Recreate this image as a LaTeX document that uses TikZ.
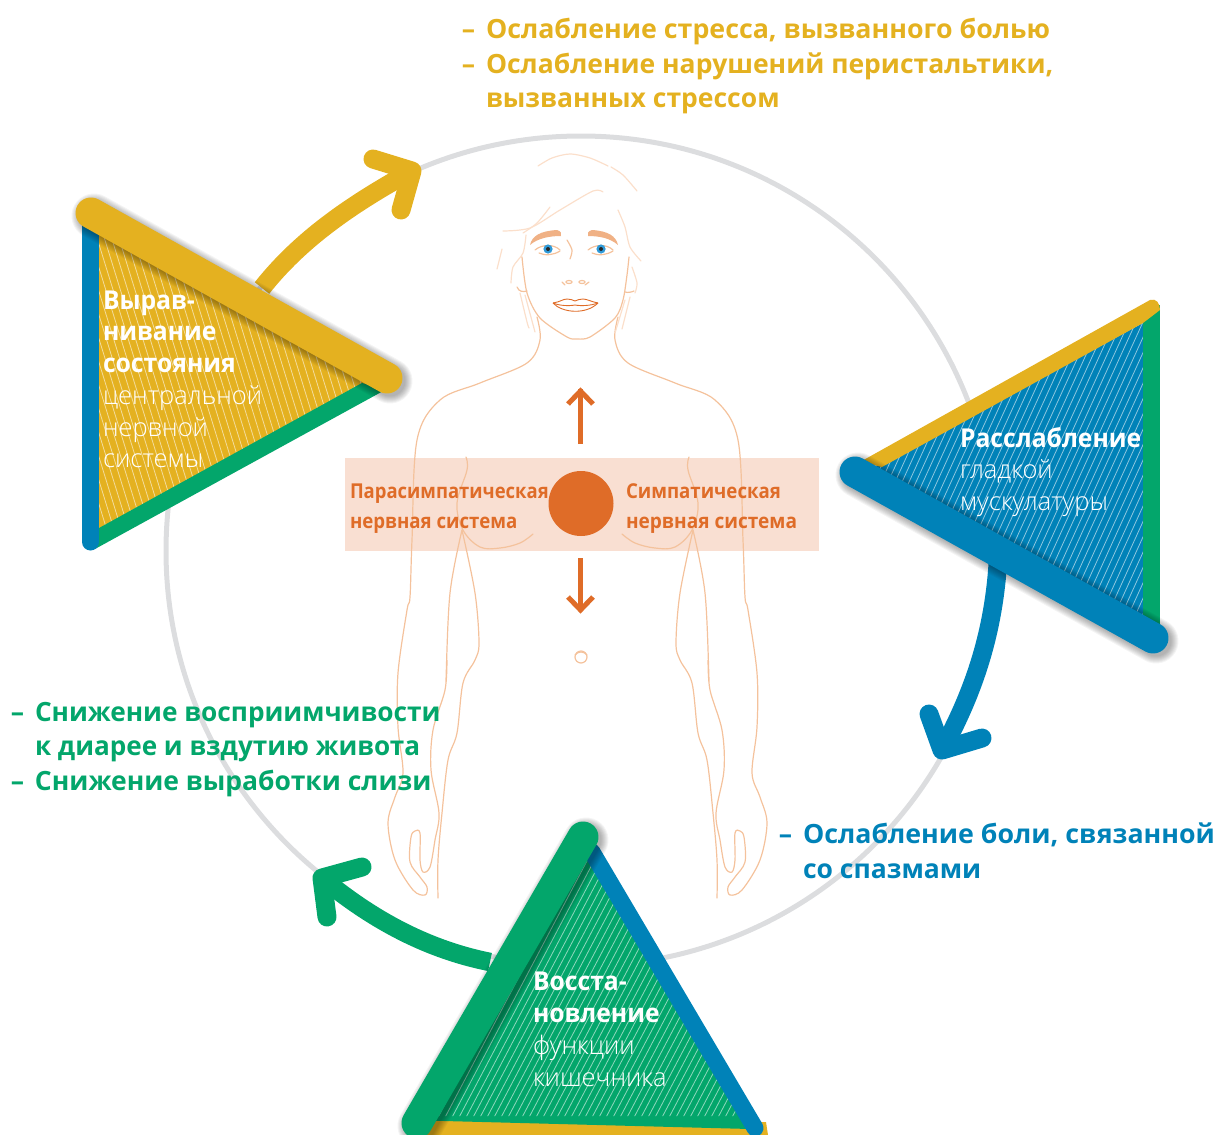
\documentclass[tikz,border=0pt]{standalone}
\usepackage{graphicx}
\usepackage{fontspec}
\setmainfont{Open Sans}
\newfontfamily\lightf{Open Sans Light}
\definecolor{cyel}{HTML}{E4B120}
\definecolor{cgrn}{HTML}{03A66B}
\definecolor{cblu}{HTML}{0082B8}
\definecolor{cgry}{HTML}{DCDDDF}
\definecolor{corg}{HTML}{DF6C28}
\definecolor{cbox}{HTML}{F9DFD2}
\definecolor{cskin}{HTML}{F4C29C}
\definecolor{chair}{HTML}{FBDFCB}
\definecolor{ciris}{HTML}{2F9AD8}
\newcommand\xs[2]{\scalebox{#1}[1]{#2}}
\tikzset{
  x=1pt,y=-1pt,
  bar/.style={line width=31,line cap=round},
  edge/.style={line width=17,line cap=round},
  shaft/.style={line width=18.5,line cap=butt},
  head/.style={line width=19,line cap=round,line join=round},
  hatchl/.style={white,opacity=.55,line width=.8},
  skin/.style={cskin,line width=1.2,line cap=round},
  hairl/.style={chair,line width=1.2,line cap=round},
  tx/.style={anchor=base west,inner sep=0,outer sep=0},
  big/.style={tx,font=\bfseries\fontsize{26.5}{30}\selectfont},
  lbl/.style={tx,corg,font=\bfseries\fontsize{20.5}{24}\selectfont},
  tb/.style={tx,white,font=\bfseries\fontsize{26}{30}\selectfont},
  tl/.style={tx,white,font=\lightf\fontsize{25.5}{30}\selectfont},
  oarr/.style={corg,line width=5,line join=miter},
}
\newcommand\softshadow[4]{%
  \foreach \w in {45,43,41,39,37,35,33,31}{%
    \draw[black,opacity=.042,line width=\w,line cap=round] (#1+3,#2+3) -- (#3+3,#4+3);}}
\newcommand\halfbody{%
  \draw[skin] plot[smooth,tension=.55] coordinates {(537,317) (540,340) (527,363) (480,383) (440,400) (417,440) (412,540) (410,597) (407,610) (398,673) (398,727) (403,773) (395,797) (388,823) (395,860) (413,890) (425,895) (427,887) (420,877) (410,862) (411,837) (415,831) (420,833) (420,860) (423,872) (430,867) (435,840) (439,813) (431,770) (433,730) (445,690) (447,660) (446,680) (450,593) (462,530)};
  \draw[skin] plot[smooth,tension=.55] coordinates {(462,530) (475,593) (479,643) (475,660) (463,683) (457,733) (448,760) (442,813) (438,860) (438,898)};
  \draw[skin] plot[smooth,tension=.6] coordinates {(466,457) (467,470) (457,503) (463,530) (480,547) (500,548) (520,543) (533,534)};
}
\begin{document}
\begin{tikzpicture}
\useasboundingbox (0,0) rectangle (1218,1135);
\clip (0,0) rectangle (1218,1135);
% ring
\node[circle,draw=cgry,line width=5,minimum size=830,inner sep=0] (ring) at (581,551) {};
% panel
\node[fill=cbox,minimum width=474,minimum height=93,inner sep=0] (panel) at (582,504.5) {};
% body
\halfbody
\begin{scope}[cm={-1,0,0,1,(1155pt,0pt)}]\halfbody\end{scope}
% hair
\draw[hairl] plot[smooth] coordinates {(538,166) (552,158) (570,154) (590,158) (608,166)};
\draw[hairl] plot[smooth] coordinates {(611,167) (623,175) (637,191)};
\draw[hairl] plot[smooth] coordinates {(503,231) (530,228) (560,210) (593,191) (603,192)};
\draw[hairl] plot[smooth] coordinates {(550,207) (537,223) (523,233)};
\draw[hairl] plot[smooth] coordinates {(618,210) (625,227) (630,247) (641,261)};
\draw[hairl] plot[smooth] coordinates {(526,235) (523,253) (513,267) (511,283)};
\draw[hairl] plot[smooth] coordinates {(502,249) (497,269)};
\draw[hairl] plot[smooth] coordinates {(520,293) (527,322) (529,328)};
\draw[hairl] plot[smooth] coordinates {(525,295) (535,332)};
\draw[hairl] plot[smooth] coordinates {(625,300) (615,333)};
\draw[hairl] plot[smooth] coordinates {(630,297) (622,329)};
\draw[hairl] plot[smooth] coordinates {(632,267) (637,283) (635,293)};
% face
\draw[skin] plot[smooth] coordinates {(522,257) (527,293) (540,318) (567,337) (577,339) (590,337) (615,318) (623,300) (627,275) (629,257)};
\draw[skin] (517,287) .. controls (519,292) and (523,292) .. (527,291);
\draw[skin] (634,291) .. controls (632,292) and (628,293) .. (625,292);
\fill[cskin!80!corg] (530,245) .. controls (532,236) and (540,231) .. (557,230) .. controls (561,231) and (562,234) .. (561,236) .. controls (550,236) and (538,238) .. (530,245) -- cycle;
\fill[cskin!80!corg] (618,245) .. controls (616,236) and (608,231) .. (592,230) .. controls (588,231) and (587,234) .. (588,236) .. controls (599,236) and (610,238) .. (618,245) -- cycle;
\foreach \ex in {548,601}{
  \draw[skin] (\ex-13,250) .. controls (\ex-6,244) and (\ex+6,244) .. (\ex+12,250);
  \draw[skin] (\ex-9,253) .. controls (\ex-3,256) and (\ex+6,255) .. (\ex+12,251);
  \fill[ciris] (\ex,249) circle (4.6);
  \fill[black!85] (\ex,249) circle (2);
}
\draw[skin] plot[smooth] coordinates {(567,240) (572,250) (570,259)};
\draw[skin] (562,282) -- (565,285);
\draw[skin] (589,282) -- (585,285);
\draw[skin] (569,282) ellipse (3 and 1.5);
\draw[skin] (582,282) ellipse (3 and 1.5);
\draw[corg,line width=.9] (553,303) .. controls (560,302) and (563,299) .. (567,299) .. controls (570,299) and (573,300) .. (575,301) .. controls (577,300) and (580,299) .. (583,299) .. controls (587,299) and (592,302) .. (598,303);
\draw[corg,line width=.9] (553,303) .. controls (560,306) and (570,306) .. (575,305) .. controls (580,306) and (590,306) .. (598,303);
\draw[corg,line width=.9] (553,303) .. controls (562,313) and (586,315) .. (598,303);
% navel
\draw[skin] (581,657) ellipse (6 and 6);
\draw[skin] (575,655) .. controls (578,651) and (584,651) .. (587,655);
% centre
\node[circle,fill=corg,minimum size=65,inner sep=0] (core) at (581,503.5) {};
\coordinate (upEnd) at (580.5,389);
\coordinate (dnEnd) at (580.5,611);
\draw[oarr] (580.5,444) -- (upEnd);
\draw[oarr] (568,404) -- (580.5,391) -- (593,404);
\draw[oarr] (580.5,558) -- (dnEnd);
\draw[oarr] (568,597) -- (580.5,610) -- (593,597);
\node[lbl] (ps1) at (350,498) {\xs{.9}{Парасимпатическая}};
\node[lbl] (ps2) at (350,528) {\xs{.91}{нервная система}};
\node[lbl] (sy1) at (626,498) {\xs{.91}{Симпатическая}};
\node[lbl] (sy2) at (626,528) {\xs{.93}{нервная система}};

% yellow triangle
\coordinate (ya) at (262,288); \coordinate (yt) at (412,171);
\draw[cyel,shaft] (ya) .. controls (300,240) and (350,205) .. (yt);
\draw[cyel,head] (373,159) -- (yt) -- (401,210);
\fill[cyel] (99,215) -- (99,530) -- (375,380) -- cycle;
\begin{scope}
\clip (99,225) -- (99,530) -- (362,385) -- (370,375) -- cycle;
\foreach \i in {-10,...,45}{\draw[hatchl] (\i*7.3+30,210) -- (\i*7.3+30+105,550);}
\end{scope}
\fill[cgrn] (99,528) -- (362,383) -- (385,390) -- (95,549) -- (90,540) -- cycle;
\draw[cblu,line width=17,line cap=round] (90.5,225) -- (90.5,542);
\softshadow{91}{213}{387}{378}
\draw[cyel,bar] (91,213) -- (387,378);

% blue triangle
\coordinate (ba) at (998,560); \coordinate (bt) at (942,750);
\draw[cblu,shaft] (ba) .. controls (994,630) and (975,690) .. (bt);
\draw[cblu,head] (929,714) -- (bt) -- (982,738);
\fill[cblu] (1143,323) -- (1143,635) -- (870,470) -- cycle;
\begin{scope}
\clip (1143,323) -- (1143,640) -- (870,470) -- cycle;
\foreach \i in {0,...,60}{\draw[hatchl] (\i*7+880,300) -- (\i*7+880-155,640);}
\end{scope}
\draw[cgrn,line width=17] (1151.5,305) -- (1151.5,632);
\fill[cyel] (1150,300) .. controls (1156,298) and (1160,303) .. (1160,310) -- (1143,323) -- (882,467) -- (860,462) -- cycle;
\softshadow{855}{472}{1153}{638}
\draw[cblu,bar] (855,472) -- (1153,638);

% green triangle
\coordinate (ga) at (490,962); \coordinate (gt) at (322,878);
\draw[cgrn,shaft] (ga) .. controls (430,950) and (375,922) .. (gt);
\draw[cgrn,head] (362,867) -- (gt) -- (327,917);
\fill[cyel] (430,1121) -- (766,1122) -- (768,1135) -- (415,1135) -- cycle;
\fill[cgrn] (583,850) -- (425,1120.5) -- (750,1129) -- cycle;
\begin{scope}
\clip (583,850) -- (425,1116) -- (745,1116) -- cycle;
\foreach \i in {0,...,60}{\draw[hatchl] (\i*7+500,840) -- (\i*7+500-150,1125);}
\end{scope}
\draw[cblu,edge] (592,852) -- (755,1128);
\softshadow{583}{837}{417}{1123}
\draw[cgrn,bar] (583,837) -- (417,1123);

% triangle texts
\node[tb] (y1) at (103,309) {\xs{.95}{Вырав-}};
\node[tb] (y2) at (103,340.5) {\xs{.95}{нивание}};
\node[tb] (y3) at (103,372.5) {\xs{.95}{состояния}};
\node[tl] (y4) at (103,404) {центральной};
\node[tl] (y5) at (103,436) {нервной};
\node[tl] (y6) at (103,467.5) {системы};
\node[tb] (b1) at (960,447.5) {\xs{.95}{Расслабление}};
\node[tl] (b2) at (960,478.5) {гладкой};
\node[tl] (b3) at (960,510.5) {мускулатуры};
\node[tb] (g1) at (533,990.5) {\xs{.95}{Восста-}};
\node[tb] (g2) at (533,1022) {\xs{.95}{новление}};
\node[tl] (g3) at (533,1054) {функции};
\node[tl] (g4) at (533,1086) {кишечника};

% outcome lists
\node[big,cyel] (o1) at (486,38) {\llap{–\hspace{11pt}}\xs{1.01}{Ослабление стресса, вызванного болью}};
\node[big,cyel] (o2) at (486,73) {\llap{–\hspace{11pt}}Ослабление нарушений перистальтики,};
\node[big,cyel] (o3) at (486,107) {вызванных стрессом};
\node[big,cgrn] (o4) at (35,721) {\llap{–\hspace{11pt}}\xs{.99}{Снижение восприимчивости}};
\node[big,cgrn] (o5) at (35,755) {\xs{.985}{к диарее и вздутию живота}};
\node[big,cgrn] (o6) at (35,790) {\llap{–\hspace{11pt}}Снижение выработки слизи};
\node[big,cblu] (o7) at (803,843) {\llap{–\hspace{11pt}}\xs{1.01}{Ослабление боли, связанной}};
\node[big,cblu] (o8) at (803,878) {со спазмами};
\end{tikzpicture}
\end{document}
